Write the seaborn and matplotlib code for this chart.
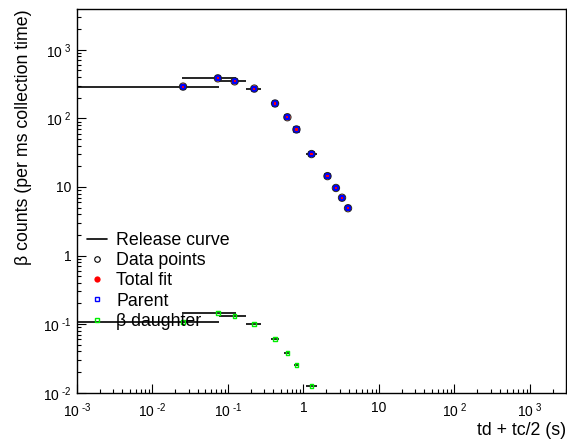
import numpy as np
import pandas as pd
import matplotlib
matplotlib.use("Agg")
import matplotlib.pyplot as plt
from matplotlib.lines import Line2D
from matplotlib.ticker import FuncFormatter, LogLocator, NullFormatter
import seaborn as sns

# Decay time (s) of each measurement and the span of its collection window
t_mid = [0.0254, 0.0734, 0.1225, 0.223, 0.42, 0.612, 0.807, 1.277, 2.08, 2.69, 3.24, 3.89]
t_lo = [0.001, 0.0246, 0.0757, 0.175, 0.372, 0.56, 0.75, 1.096, 1.95, 2.55, 3.1, 3.75]
t_hi = [0.0757, 0.126, 0.171, 0.274, 0.475, 0.67, 0.87, 1.489, 2.2, 2.85, 3.4, 4.05]

# Beta counts per ms of collection time
data_counts = [291, 384, 347, 272, 165, 104, 69, 30.2, 14.4, 9.67, 6.97, 4.90]
total_fit = [291, 384, 347, 272, 165, 104, 69, 30.2, 14.4, 9.67, 6.97, 4.90]
parent_fit = [291, 384, 347, 272, 165, 104, 69, 30.2, 14.4, 9.67, 6.97, 4.90]
daughter_fit = [0.108, 0.1445, 0.1306, 0.101, 0.0605, 0.0383, 0.0256, 0.0124]

legend_labels = ["Release curve", "Data points", "Total fit", "Parent", "\u03b2 daughter"]

sns.set_theme(style="white")
plt.rcParams["font.family"] = ["Liberation Sans", "DejaVu Sans"]
plt.rcParams["mathtext.fontset"] = "custom"
plt.rcParams["mathtext.rm"] = "Liberation Sans"
plt.rcParams["mathtext.it"] = "Liberation Sans:italic"
plt.rcParams["mathtext.default"] = "regular"
plt.rcParams["text.color"] = "black"
plt.rcParams["axes.labelcolor"] = "black"
plt.rcParams["xtick.color"] = "black"
plt.rcParams["ytick.color"] = "black"

df = pd.DataFrame({"t": t_mid, "lo": t_lo, "hi": t_hi, "counts": data_counts,
                   "total": total_fit, "parent": parent_fit})
n_d = len(daughter_fit)
dd = pd.DataFrame({"t": t_mid[:n_d], "lo": t_lo[:n_d], "hi": t_hi[:n_d],
                   "daughter": daughter_fit})

fig = plt.figure(figsize=(5.67, 4.44), dpi=100)
ax = fig.add_axes([77 / 567, (444 - 392.7) / 444, (566 - 77) / 567, (392.7 - 9.3) / 444])
ax.set_xscale("log")
ax.set_yscale("log")

# collection-window bars
ax.hlines(df["counts"], df["lo"], df["hi"], color="black", lw=1.2, zorder=2)
ax.hlines(dd["daughter"], dd["lo"], dd["hi"], color="black", lw=1.2, zorder=2)

# total fit, parent component and measured points
sns.scatterplot(data=df, x="t", y="total", marker="o", s=22, color="red",
                edgecolor="none", linewidth=0, ax=ax, zorder=3, legend=False)
sns.scatterplot(data=df, x="t", y="parent", marker="s", s=9, color="blue",
                facecolor="none", edgecolor="blue", linewidth=1.5, ax=ax, zorder=4, legend=False)
sns.scatterplot(data=df, x="t", y="counts", marker="o", s=28, color="#222222",
                facecolor="none", edgecolor="#222222", linewidth=0.7, ax=ax, zorder=5, legend=False)
sns.scatterplot(data=dd, x="t", y="daughter", marker="s", s=7, color="#00ee00",
                facecolor="none", edgecolor="#00ee00", linewidth=1.0, ax=ax, zorder=4, legend=False)

ax.set_xlim(1e-3, 3e3)
ax.set_ylim(1e-2, 3.9e3)


def log_label(v, pos):
    e = int(round(np.log10(v)))
    if e == 0:
        return "1"
    if e == 1:
        return "10"
    if e < 0:
        return r"$10^{\ \text{-}%d}$" % (-e)
    return r"$10^{\ %d}$" % e


for axis in (ax.xaxis, ax.yaxis):
    axis.set_major_locator(LogLocator(base=10, numticks=20))
    axis.set_minor_locator(LogLocator(base=10, subs=np.arange(2, 10), numticks=20))
    axis.set_major_formatter(FuncFormatter(log_label))
    axis.set_minor_formatter(NullFormatter())

ax.tick_params(which="both", direction="in", bottom=True, left=True, top=False, right=False,
               width=0.8, colors="black")
ax.tick_params(which="major", length=6.5, labelsize=10)
ax.tick_params(axis="x", which="major", pad=6)
ax.tick_params(axis="y", which="major", pad=4)
ax.tick_params(which="minor", length=3.2)
for s in ax.spines.values():
    s.set_color("black")
    s.set_linewidth(1.0)

ax.set_xlabel("td + tc/2 (s)", fontsize=12.8, loc="right", labelpad=2)
ax.set_ylabel("\u03b2 counts (per ms collection time)", fontsize=12.8, loc="top", labelpad=8)

handles = [
    Line2D([], [], color="black", lw=1.2),
    Line2D([], [], color="black", marker="o", ls="none", ms=4, mfc="none", mew=0.8),
    Line2D([], [], color="red", marker="o", ls="none", ms=4.5, mew=0),
    Line2D([], [], color="blue", marker="s", ls="none", ms=3.2, mfc="none", mew=1.0),
    Line2D([], [], color="#00ee00", marker="s", ls="none", ms=3.4, mfc="none", mew=1.0),
]
ax.legend(handles, legend_labels, loc="upper left", bbox_to_anchor=(87 / 567, (444 - 232) / 444),
          bbox_transform=fig.transFigure, frameon=False, fontsize=12.8, borderpad=0,
          borderaxespad=0, handlelength=1.15, handletextpad=0.5, labelspacing=0.18)

fig.savefig("out.png", dpi=100)
